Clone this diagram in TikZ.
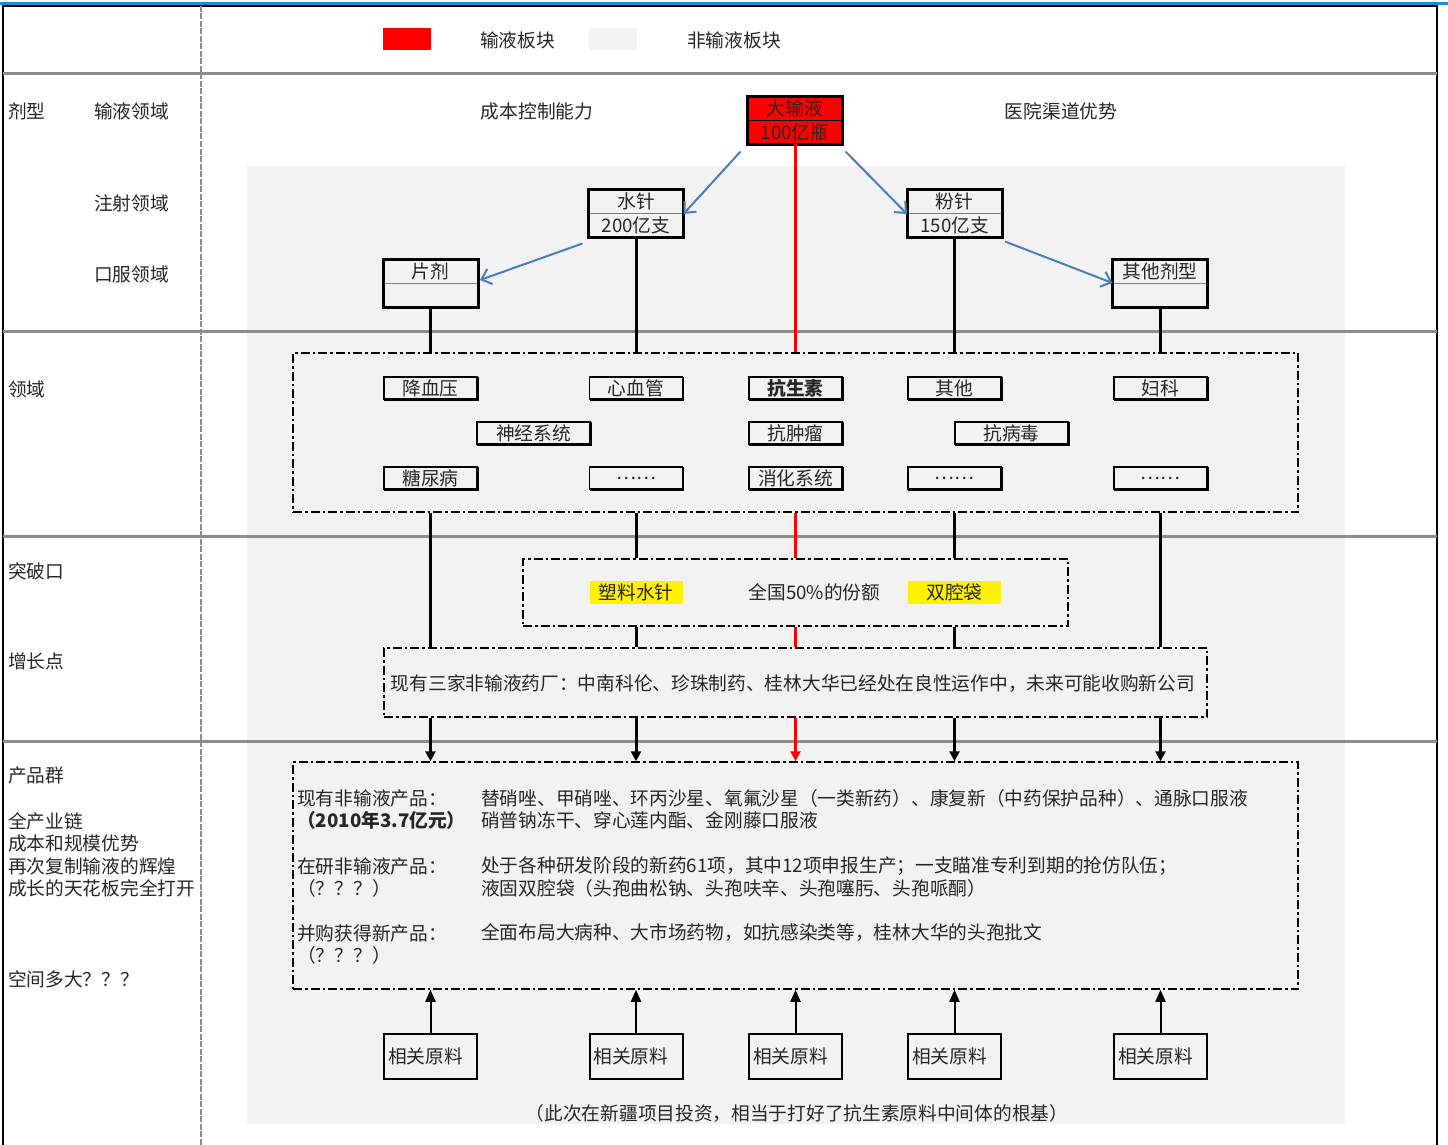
\documentclass[tikz,border=0pt]{standalone}
\usepackage{fontspec}
\setmainfont{Noto Sans CJK SC}
\usetikzlibrary{arrows.meta}
\definecolor{bgray}{HTML}{F2F2F2}
\definecolor{lblue}{HTML}{4A7EBB}
\definecolor{topblue}{HTML}{1A8FD8}
\definecolor{sepgray}{HTML}{8C8C8C}
\definecolor{txt}{HTML}{262626}
\tikzset{
  lbl/.style={anchor=west, inner sep=0, text=txt},
  ctr/.style={inner sep=0, text=txt},
  half/.style={draw=gray, line width=1pt, minimum width=94, minimum height=23.5, inner sep=0, text=txt},
  mini/.style={draw, line width=1.3pt, minimum height=22, inner sep=0, text=txt},
  dashbox/.style={draw, line width=1.5pt, dash pattern=on 9pt off 3pt on 2.5pt off 3pt, inner sep=0},
  vline/.style={line width=3pt, black},
  rline/.style={line width=3pt, red},
  blarrow/.style={lblue, line width=2pt, -{Straight Barb[length=9pt,width=16pt,line width=2pt]}},
  downarrow/.style={-{Triangle[length=10pt,width=10pt]}},
  uparrow/.style={line width=2pt, -{Triangle[length=12pt,width=10pt]}},
  hl/.style={fill=yellow, minimum width=93, minimum height=23, inner sep=0, text=txt},
  rawbox/.style={draw, line width=2pt, minimum width=93, minimum height=45, inner sep=0, text=txt},
  hsep/.style={sepgray, line width=3pt},
}
\newcommand{\smallbox}[5]{%
  \node[mini, minimum width=#4] (#1) at (#2,#3) {#5};
  \draw[line width=2.6pt] ([xshift=1pt]#1.south west) -- (#1.south east) -- ([yshift=-1pt]#1.north east);
}
\newcommand{\twobox}[6]{%
  \node[half, fill=#4] (#1a) at (#2,#3+11.75) {#5};
  \node[half, fill=#4] (#1b) at (#2,#3+35.25) {#6};
  \draw[line width=3pt] (#1a.north west) rectangle (#1b.south east);
}
\begin{document}
\begin{tikzpicture}[x=1pt,y=-1pt,font=\fontsize{18.7}{21}\selectfont]
\useasboundingbox (0,0) rectangle (1448,1145);
\fill[white] (0,0) rectangle (1448,1145);
% background of the non-infusion block
\fill[bgray] (247,166) rectangle (1345,1124);
% frame
\draw[topblue, line width=3pt] (0,4) -- (1448,4);
\draw[black, line width=2.5pt] (3,1145) -- (3,6) -- (1437,6) -- (1437,1145);
\draw[sepgray, line width=1.5pt, dash pattern=on 6pt off 1.5pt] (201,6) -- (201,1145);
\foreach \yy in {74,331,536,741} \draw[hsep] (3,\yy) -- (1437,\yy);

% legend
\fill[red] (383,28) rectangle (431,50);
\fill[bgray] (589,28) rectangle (637,50);
\node[lbl] (lg1) at (480,40) {输液板块};
\node[lbl] (lg2) at (687,40) {非输液板块};

% left column labels
\node[lbl] (l1) at (8,111) {剂型};
\node[lbl] (l2) at (94,111) {输液领域};
\node[lbl] (l3) at (94,203) {注射领域};
\node[lbl] (l4) at (94,274) {口服领域};
\node[lbl] (l5) at (8,389) {领域};
\node[lbl] (l6) at (8,571) {突破口};
\node[lbl] (l7) at (8,661) {增长点};
\node[lbl] (l8) at (8,775) {产品群};
\node[lbl] (l9) at (8,821) {全产业链};
\node[lbl] (l10) at (8,843) {成本和规模优势};
\node[lbl] (l11) at (8,866) {再次复制输液的辉煌};
\node[lbl] (l12) at (8,888) {成长的天花板完全打开};
\node[lbl] (l13) at (8,979) {空间多大？？？};

% top captions
\node[ctr] (cb) at (537,111) {成本控制能力};
\node[ctr] (yy) at (1061,111) {医院渠道优势};

% dosage form boxes
\node[half, draw=black, fill=red] (dsya) at (795,108.75) {大输液};
\node[half, draw=black, fill=red] (dsyb) at (795,132.25) {100亿瓶};
\draw[line width=3pt] (dsya.north west) rectangle (dsyb.south east);
\twobox{sz}{636}{190}{bgray}{水针}{200亿支}
\twobox{fz}{954.5}{190}{bgray}{粉针}{150亿支}
\twobox{pj}{430.5}{260}{bgray}{片剂}{}
\twobox{qt}{1160}{260}{bgray}{其他剂型}{}

% blue arrows
\draw[blarrow] ([xshift=-7pt,yshift=-7pt]dsyb.south west) -- (sza.south east);
\draw[blarrow] ([xshift=3pt,yshift=-7pt]dsyb.south east) -- (fza.south west);
\draw[blarrow] ([xshift=-6pt,yshift=-6pt]szb.south west) -- ([xshift=2pt,yshift=4pt]pja.south east);
\draw[blarrow] ([xshift=3pt,yshift=-4pt]fzb.south east) -- ([yshift=1pt]qta.south west);

% field box
\node[dashbox, minimum width=1005, minimum height=159] (ly) at (795.5,432.5) {};
\smallbox{jxy}{430.5}{388}{93}{降血压}
\smallbox{xxg}{636}{388}{93}{心血管}
\smallbox{kss}{795.5}{388}{93}{\bfseries 抗生素}
\smallbox{qtt}{954.5}{388}{93}{其他}
\smallbox{fk}{1160.5}{388}{93}{妇科}
\smallbox{sj}{533.5}{433}{113}{神经系统}
\smallbox{kzl}{795.5}{433}{93}{抗肿瘤}
\smallbox{kbd}{1011.5}{433}{113}{抗病毒}
\smallbox{tnb}{430.5}{478}{93}{糖尿病}
\smallbox{dda}{636}{478}{93}{……}
\smallbox{xh}{795.5}{478}{93}{消化系统}
\smallbox{ddb}{954.5}{478}{93}{……}
\smallbox{ddc}{1160.5}{478}{93}{……}

% connectors from dosage forms to field box
\draw[vline] (pjb.south) -- (pjb.south |- ly.north);
\draw[vline] (szb.south) -- (szb.south |- ly.north);
\draw[rline] (dsyb.south) -- (dsyb.south |- ly.north);
\draw[vline] (fzb.south) -- (fzb.south |- ly.north);
\draw[vline] (qtb.south) -- (qtb.south |- ly.north);

% breakthrough box
\node[dashbox, minimum width=545, minimum height=67] (tp) at (795.5,592.5) {};
\node[hl] (slsz) at (636,592) {塑料水针};
\node[ctr] (qg) at (814.5,592) {全国50\%的份额};
\node[hl] (sqd) at (954.5,592) {双腔袋};

% growth box
\node[dashbox, minimum width=823, minimum height=69] (zz) at (795.5,682.5) {};
\node[ctr] (zzt) at (793,684) {现有三家非输液药厂：中南科伦、珍珠制药、桂林大华已经处在良性运作中，未来可能收购新公司};

% product group box
\node[dashbox, minimum width=1005, minimum height=227] (cp) at (795.5,875.5) {};
\node[lbl] (p1) at (297,798) {现有非输液产品：};
\node[lbl] (p2) at (297,820) {\bfseries （2010年3.7亿元）};
\node[lbl] (p3) at (481,798) {替硝唑、甲硝唑、环丙沙星、氧氟沙星（一类新药）、康复新（中药保护品种）、通脉口服液};
\node[lbl] (p4) at (481,820) {硝普钠冻干、穿心莲内酯、金刚藤口服液};
\node[lbl] (p5) at (297,866) {在研非输液产品：};
\node[lbl] (p6) at (297,888) {（？？？）};
\node[lbl] (p7) at (481,866) {处于各种研发阶段的新药61项，其中12项申报生产；一支瞄准专利到期的抢仿队伍；};
\node[lbl] (p8) at (481,888) {液固双腔袋（头孢曲松钠、头孢呋辛、头孢噻肟、头孢哌酮）};
\node[lbl] (p9) at (297,933) {并购获得新产品：};
\node[lbl] (p10) at (297,955) {（？？？）};
\node[lbl] (p11) at (481,933) {全面布局大病种、大市场药物，如抗感染类等，桂林大华的头孢批文};

% connectors below field box
\draw[vline] (tnb |- ly.south) -- (tnb |- zz.north);
\draw[vline, downarrow] (tnb |- zz.south) -- (tnb |- cp.north);
\draw[vline] (dda |- ly.south) -- (dda |- tp.north);
\draw[vline] (dda |- tp.south) -- (dda |- zz.north);
\draw[vline, downarrow] (dda |- zz.south) -- (dda |- cp.north);
\draw[rline] (xh |- ly.south) -- (xh |- tp.north);
\draw[rline] (xh |- tp.south) -- (xh |- zz.north);
\draw[rline, downarrow] (xh |- zz.south) -- (xh |- cp.north);
\draw[vline] (ddb |- ly.south) -- (ddb |- tp.north);
\draw[vline] (ddb |- tp.south) -- (ddb |- zz.north);
\draw[vline, downarrow] (ddb |- zz.south) -- (ddb |- cp.north);
\draw[vline] (ddc |- ly.south) -- (ddc |- zz.north);
\draw[vline, downarrow] (ddc |- zz.south) -- (ddc |- cp.north);

% raw material boxes
\foreach \n/\xx in {1/430.5,2/636,3/795.5,4/954.5,5/1160.5}{
  \node[rawbox] (yl\n) at (\xx,1056.5) {\makebox[85pt][l]{相关原料}};
  \draw[uparrow] (yl\n.north) -- (yl\n.north |- cp.south);
}
\node[ctr] (foot) at (797,1113) {（此次在新疆项目投资，相当于打好了抗生素原料中间体的根基）};
\end{tikzpicture}
\end{document}
